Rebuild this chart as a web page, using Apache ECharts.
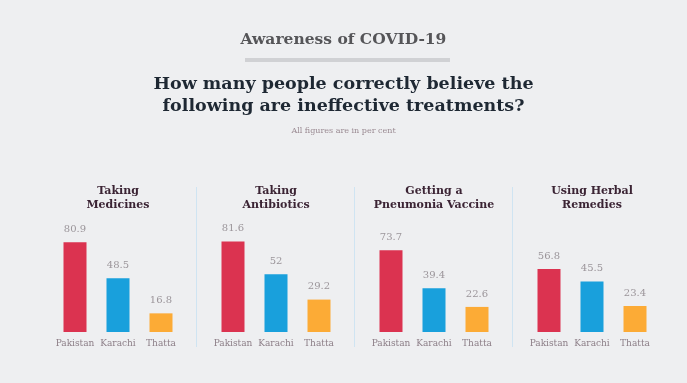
<!DOCTYPE html>
<html>
<head>
<meta charset="utf-8">
<script src="https://cdn.jsdelivr.net/npm/echarts@6/dist/echarts.min.js"></script>
<style>
html,body{margin:0;padding:0;background:#eeeff1;}
#chart{width:687px;height:383px;}
</style>
</head>
<body>
<div id="chart"></div>
<script>
const categories = ['Pakistan', 'Karachi', 'Thatta'];
const panelTitles = ['Taking\nMedicines', 'Taking\nAntibiotics', 'Getting a\nPneumonia Vaccine', 'Using Herbal\nRemedies'];
const takingMedicines = [80.9, 48.5, 16.8];
const takingAntibiotics = [81.6, 52, 29.2];
const pneumoniaVaccine = [73.7, 39.4, 22.6];
const herbalRemedies = [56.8, 45.5, 23.4];
const panelValues = [takingMedicines, takingAntibiotics, pneumoniaVaccine, herbalRemedies];

const SERIF = "Georgia, 'DejaVu Serif', serif";
const barColors = ['#db3350', '#19a0dc', '#fcab36'];
const panelW = 158, panel0 = 39, bandW = 129;

const chart = echarts.init(document.getElementById('chart'), null, {renderer: 'canvas'});

const grids = [], xAxes = [], yAxes = [], series = [], titles = [], graphics = [];

titles.push({
  text: 'Awareness of COVID-19', left: 'center', top: 30, padding: 0,
  textStyle: {fontFamily: SERIF, fontSize: 15.5, fontWeight: 'bold', color: '#555558', lineHeight: 20}
});
titles.push({
  text: 'How many people correctly believe the\nfollowing are ineffective treatments?', left: 'center', top: 73, padding: 0,
  textStyle: {fontFamily: SERIF, fontSize: 17.5, fontWeight: 'bold', color: '#1e2833', lineHeight: 22}
});
titles.push({
  text: 'All figures are in per cent', left: 'center', top: 125, padding: 0,
  textStyle: {fontFamily: SERIF, fontSize: 8, fontWeight: 'normal', color: '#9a8a92', lineHeight: 12}
});

graphics.push({type: 'rect', shape: {x: 245, y: 58, width: 205, height: 4}, style: {fill: '#d0d1d4'}, silent: true});

panelValues.forEach((vals, i) => {
  const c = panel0 + panelW * i + panelW / 2;
  grids.push({left: c - bandW / 2, width: bandW, top: 221, bottom: 51, containLabel: false});
  xAxes.push({
    type: 'category', gridIndex: i, data: categories,
    axisLine: {show: false}, axisTick: {show: false},
    axisLabel: {fontFamily: SERIF, fontSize: 9, color: '#8c7e87', margin: 7, interval: 0}
  });
  yAxes.push({
    type: 'value', gridIndex: i, min: 0, max: 100,
    show: false, splitLine: {show: false}
  });
  series.push({
    type: 'bar', xAxisIndex: i, yAxisIndex: i, data: vals, barWidth: 23,
    colorBy: 'data', color: barColors,
    label: {show: true, position: 'top', distance: 8, fontFamily: SERIF, fontSize: 10, color: '#9b959a'},
    silent: true, animation: false
  });
  titles.push({
    text: panelTitles[i], left: c, top: 184, textAlign: 'center', padding: 0,
    textStyle: {fontFamily: SERIF, fontSize: 11, fontWeight: 'bold', color: '#3b2434', lineHeight: 14}
  });
  if (i > 0) {
    const x = panel0 + panelW * i - 0.5;
    graphics.push({type: 'line', shape: {x1: x, y1: 187, x2: x, y2: 347}, style: {stroke: '#cfe4f2', lineWidth: 1}, silent: true});
  }
});

chart.setOption({
  backgroundColor: '#eeeff1',
  animation: false,
  title: titles,
  grid: grids,
  xAxis: xAxes,
  yAxis: yAxes,
  series: series,
  graphic: graphics
});
</script>
</body>
</html>
